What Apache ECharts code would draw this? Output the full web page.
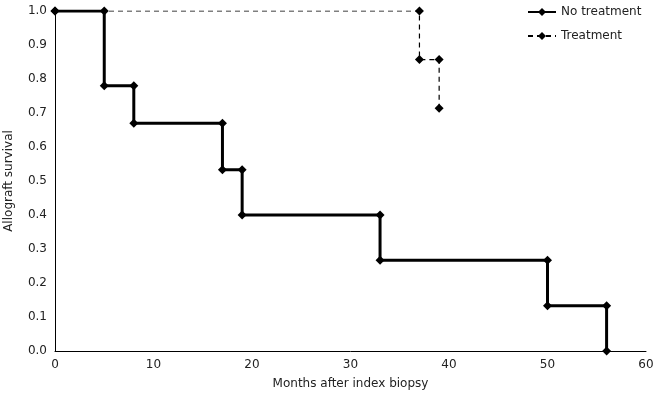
<!DOCTYPE html>
<html><head><meta charset="utf-8">
<script src="https://cdn.jsdelivr.net/npm/echarts@6/dist/echarts.min.js"></script>
<style>html,body{margin:0;padding:0;background:#fff}#c{width:666px;height:396px}</style>
</head><body><div id="c"></div>
<script>
const noTreatMonths = [0, 5, 5, 8, 8, 17, 17, 19, 19, 33, 33, 50, 50, 56, 56];
const noTreatSurv   = [1.0, 1.0, 0.78, 0.78, 0.67, 0.67, 0.533, 0.533, 0.4, 0.4, 0.267, 0.267, 0.133, 0.133, 0.0];
const treatMonths = [0, 37, 37, 39, 39];
const treatSurv   = [1.0, 1.0, 0.857, 0.857, 0.714];
const seriesNames = ['No treatment', 'Treatment'];
const xTitle = 'Months after index biopsy';
const yTitle = 'Allograft survival';

const zip = (a, b) => a.map((v, i) => [v, b[i]]);
const font = 'DejaVu Sans';
const chart = echarts.init(document.getElementById('c'));
chart.setOption({
  animation: false,
  grid: { left: 55, right: 20, top: 11, bottom: 45, containLabel: false, outerBoundsMode: 'none' },
  legend: {
    orient: 'vertical', left: 522, top: 1, itemGap: 12, itemWidth: 28, itemHeight: 10,
    textStyle: { fontFamily: font, fontSize: 12, color: '#222' },
    data: seriesNames
  },
  xAxis: {
    type: 'value', min: 0, max: 60, interval: 10,
    name: xTitle, nameLocation: 'middle', nameGap: 27,
    nameTextStyle: { fontFamily: font, fontSize: 12, color: '#222' },
    axisLine: { lineStyle: { color: '#000', width: 1 } },
    axisTick: { show: false }, splitLine: { show: false },
    axisLabel: { fontFamily: font, fontSize: 12, color: '#222', margin: 8 }
  },
  yAxis: {
    type: 'value', min: 0, max: 1, interval: 0.1,
    name: yTitle, nameLocation: 'middle', nameGap: 40,
    nameTextStyle: { fontFamily: font, fontSize: 12, color: '#222' },
    axisLine: { show: true, lineStyle: { color: '#000', width: 1 } },
    axisTick: { show: false }, splitLine: { show: false },
    axisLabel: { fontFamily: font, fontSize: 12, color: '#222', margin: 8, formatter: v => v.toFixed(1) }
  },
  series: [
    { name: seriesNames[0], type: 'line', data: zip(noTreatMonths, noTreatSurv),
      symbol: 'diamond', symbolSize: 9, showAllSymbol: true,
      lineStyle: { color: '#000', width: 3 }, itemStyle: { color: '#000' }, z: 3 },
    { name: seriesNames[1], type: 'line', data: zip(treatMonths, treatSurv),
      symbol: 'diamond', symbolSize: 9, showAllSymbol: true,
      lineStyle: { color: '#000', width: 1.2, type: [5, 4] }, itemStyle: { color: '#000' }, z: 2 }
  ]
});
</script></body></html>
